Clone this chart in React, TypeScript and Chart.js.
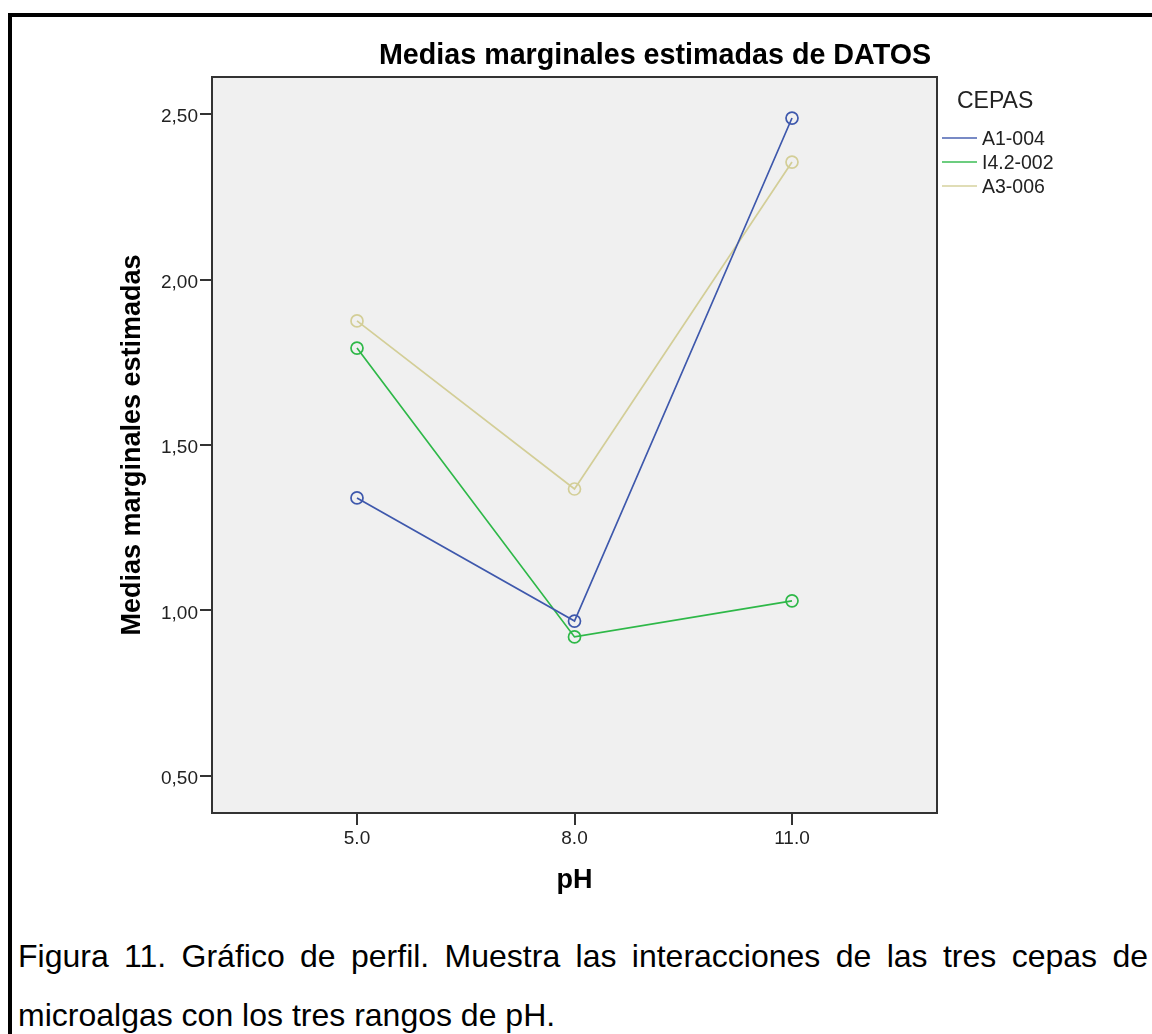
import React, { useEffect, useRef } from "react";
import { Chart, registerables } from "chart.js";

Chart.register(...registerables);

// ---- data ----
const phLevels = [5.0, 8.0, 11.0];
const phTickLabels = ["5.0", "8.0", "11.0"];
const yTickValues = [0.5, 1.0, 1.5, 2.0, 2.5];
const seriesNames = ["A1-004", "I4.2-002", "A3-006"];
const a1_004 = [1.34, 0.968, 2.488];
const i42_002 = [1.793, 0.92, 1.029];
const a3_006 = [1.875, 1.367, 2.355];
const seriesValues = [a1_004, i42_002, a3_006];
const seriesColors = ["#3E58AC", "#2EB848", "#D3CE97"];
const chartTitle = "Medias marginales estimadas de DATOS";
const legendTitle = "CEPAS";
const yAxisTitle = "Medias marginales estimadas";
const xAxisTitle = "pH";
const captionLine1 =
  "Figura 11. Gráfico de perfil. Muestra las interacciones de las tres cepas de";
const captionLine2 = "microalgas con los tres rangos de pH.";

const FONT = '"Liberation Sans", Arial, Helvetica, sans-serif';

const decorPlugin = {
  id: "decor",
  beforeDraw(chart: any) {
    const { ctx, chartArea: a } = chart;
    ctx.save();
    ctx.fillStyle = "#f0f0f0";
    ctx.fillRect(a.left, a.top, a.right - a.left, a.bottom - a.top);
    ctx.restore();
  },
  afterDraw(chart: any) {
    const { ctx, chartArea: a } = chart;
    ctx.save();
    // plot frame
    ctx.strokeStyle = "#333333";
    ctx.lineWidth = 2;
    ctx.strokeRect(a.left, a.top, a.right - a.left, a.bottom - a.top);

    // title
    ctx.fillStyle = "#000000";
    ctx.font = `bold 28.7px ${FONT}`;
    ctx.textAlign = "center";
    ctx.textBaseline = "middle";
    ctx.fillText(chartTitle, 655, a.top - 21);

    // legend
    const lx = a.right + 5;
    ctx.textAlign = "left";
    ctx.fillStyle = "#222222";
    ctx.font = `23px ${FONT}`;
    ctx.fillText(legendTitle, a.right + 20, a.top + 25);
    const rowY = [a.top + 61, a.top + 85, a.top + 109];
    chart.data.datasets.forEach((ds: any, i: number) => {
      const y = rowY[i];
      ctx.strokeStyle = ds.borderColor;
      ctx.lineWidth = 2;
      ctx.globalAlpha = 0.7;
      ctx.beginPath();
      ctx.moveTo(lx, y);
      ctx.lineTo(lx + 35, y);
      ctx.stroke();
      ctx.globalAlpha = 1;
      ctx.fillStyle = "#222222";
      ctx.font = `19.5px ${FONT}`;
      ctx.fillText(ds.label, lx + 40, y + 2);
    });
    ctx.restore();
  },
};

export default function App() {
  const ref = useRef<HTMLCanvasElement | null>(null);

  useEffect(() => {
    if (!ref.current) return;
    const chart = new Chart(ref.current, {
      type: "line",
      data: {
        datasets: seriesNames.map((name, i) => ({
          label: name,
          data: phLevels.map((x, j) => ({ x, y: seriesValues[i][j] })),
          borderColor: seriesColors[i],
          backgroundColor: "rgba(0,0,0,0)",
          borderWidth: 1.7,
          pointRadius: 6,
          pointHoverRadius: 6,
          pointBorderWidth: 1.7,
          pointBorderColor: seriesColors[i],
          pointBackgroundColor: "rgba(0,0,0,0)",
          tension: 0,
          fill: false,
        })),
      },
      options: {
        animation: false,
        responsive: false,
        maintainAspectRatio: false,
        devicePixelRatio: 1,
        layout: { padding: { left: 116, right: 215, top: 77, bottom: 0 } },
        plugins: {
          legend: { display: false },
          title: { display: false },
          tooltip: { enabled: false },
        },
        scales: {
          x: {
            type: "linear",
            min: 3,
            max: 13,
            afterBuildTicks: (scale: any) => {
              scale.ticks = phLevels.map((v) => ({ value: v }));
            },
            afterFit: (scale: any) => {
              scale.height = 107;
            },
            ticks: {
              callback: (v: any) => phTickLabels[phLevels.indexOf(Number(v))] ?? "",
              font: { family: FONT, size: 19 },
              color: "#222222",
              padding: 2,
              maxRotation: 0,
              autoSkip: false,
            },
            grid: {
              display: true,
              drawOnChartArea: false,
              drawTicks: true,
              tickLength: 12,
              color: "#333333",
              lineWidth: 2,
            },
            border: { display: false },
            title: {
              display: true,
              text: xAxisTitle,
              font: { family: FONT, size: 27, weight: "bold" },
              color: "#000000",
              padding: { top: 0, bottom: 23 },
            },
          },
          y: {
            type: "linear",
            min: 0.388,
            max: 2.612,
            afterBuildTicks: (scale: any) => {
              scale.ticks = yTickValues.map((v) => ({ value: v }));
            },
            afterFit: (scale: any) => {
              scale.width = 96;
            },
            ticks: {
              callback: (v: any) => Number(v).toFixed(2).replace(".", ","),
              font: { family: FONT, size: 19 },
              color: "#222222",
              padding: 2,
              labelOffset: 3,
              autoSkip: false,
            },
            grid: {
              display: true,
              drawOnChartArea: false,
              drawTicks: true,
              tickLength: 12,
              color: "#333333",
              lineWidth: 2,
            },
            border: { display: false },
            title: {
              display: true,
              text: yAxisTitle,
              font: { family: FONT, size: 27, weight: "bold" },
              color: "#000000",
              padding: { top: 0, bottom: 0 },
            },
          },
        },
      } as any,
      plugins: [decorPlugin],
    });
    return () => chart.destroy();
  }, []);

  return (
    <div
      style={{
        position: "fixed",
        left: 0,
        top: 0,
        width: 1152,
        height: 1034,
        overflow: "hidden",
        background: "#ffffff",
      }}
    >
      <div
        style={{
          position: "absolute",
          left: 8,
          top: 13,
          width: 1144,
          height: 1021,
          borderTop: "4px solid #000",
          borderLeft: "4px solid #000",
          boxSizing: "border-box",
        }}
      />
      <canvas
        ref={ref}
        width={1152}
        height={920}
        style={{ position: "absolute", left: 0, top: 0, width: 1152, height: 920 }}
      />
      <div
        style={{
          position: "absolute",
          left: 18,
          top: 927,
          width: 1130,
          fontFamily: FONT,
          fontSize: 32,
          lineHeight: "59px",
          color: "#000",
        }}
      >
        <div style={{ textAlign: "justify", textAlignLast: "justify" as any }}>
          {captionLine1}
        </div>
        <div>{captionLine2}</div>
      </div>
    </div>
  );
}
